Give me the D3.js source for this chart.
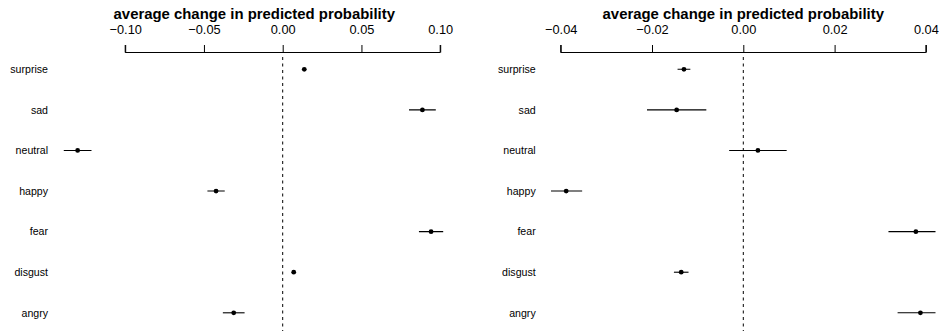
<!DOCTYPE html>
<html>
<head>
<meta charset="utf-8">
<script src="https://cdn.jsdelivr.net/npm/d3@7"></script>
<style>
  html, body { margin: 0; padding: 0; background: #fff; }
  svg { display: block; }
  text { font-family: "Liberation Sans", Arial, Helvetica, sans-serif; fill: #000; }
</style>
</head>
<body>
<svg id="chart" width="939" height="331"></svg>
<script>
// Emotion categories, listed top to bottom
const categories = ["surprise", "sad", "neutral", "happy", "fear", "disgust", "angry"];

// Left panel: estimates and interval half-widths
const leftEstimate = [0.0137, 0.0887, -0.1302, -0.0423, 0.0942, 0.0070, -0.0311];
const leftHalfWidth = [0.0010, 0.0085, 0.0088, 0.0055, 0.0077, 0.0006, 0.0069];
const leftTicks = [-0.10, -0.05, 0.00, 0.05, 0.10];

// Right panel: estimates and interval half-widths
const rightEstimate = [-0.0130, -0.0146, 0.0032, -0.0388, 0.0378, -0.0136, 0.0388];
const rightHalfWidth = [0.0014, 0.0065, 0.0063, 0.0035, 0.0060, 0.0016, 0.0050];
const rightTicks = [-0.04, -0.02, 0.00, 0.02, 0.04];

const axisTitle = "average change in predicted probability";

const svg = d3.select("#chart");

const y = d3.scalePoint()
  .domain(categories)
  .range([69.3, 312.8]);

const axisY = 52.5;

function panel(opts) {
  const { id, estimate, half, ticks, domain, range, clip, labelX } = opts;
  const x = d3.scaleLinear().domain(domain).range(range);
  const g = svg.append("g");

  svg.append("clipPath").attr("id", id)
    .append("rect")
    .attr("x", clip[0]).attr("y", 55)
    .attr("width", clip[1] - clip[0]).attr("height", 331 - 55);

  // top axis
  const axis = d3.axisTop(x)
    .tickValues(ticks)
    .tickSize(7.5)
    .tickPadding(11)
    .tickFormat(d3.format(".2f"));
  const ag = g.append("g")
    .attr("transform", `translate(0,${axisY})`)
    .call(axis);
  ag.select(".domain")
    .attr("d", `M${x(ticks[0])},-7.5V0H${x(ticks[ticks.length - 1])}V-7.5`)
    .attr("stroke", "#000").attr("stroke-width", 1);
  ag.selectAll(".tick line").attr("stroke", "#000");
  ag.selectAll(".tick text")
    .attr("font-size", 12.8)
    .attr("font-family", "'Liberation Sans', Arial, sans-serif")
    .attr("fill", "#000")
    .text(d => d3.format(".2f")(d).replace("-", "\u2212"));

  // axis title, centred on the plot region
  g.append("text")
    .attr("x", (clip[0] + clip[1]) / 2)
    .attr("y", 19)
    .attr("text-anchor", "middle")
    .attr("font-size", 14.9)
    .attr("font-weight", "bold")
    .text(axisTitle);

  // reference line at zero
  g.append("line")
    .attr("x1", x(0)).attr("x2", x(0))
    .attr("y1", 57).attr("y2", 331)
    .attr("stroke", "#000")
    .attr("stroke-width", 1)
    .attr("stroke-dasharray", "3,3.5");

  // category labels
  g.selectAll("text.cat")
    .data(categories)
    .join("text")
    .attr("class", "cat")
    .attr("x", labelX)
    .attr("y", d => y(d))
    .attr("dy", "0.36em")
    .attr("text-anchor", "end")
    .attr("font-size", 10.6)
    .attr("fill", "#111")
    .text(d => d);

  const marks = g.append("g").attr("clip-path", `url(#${id})`);

  // interval bars
  marks.selectAll("line.ci")
    .data(categories)
    .join("line")
    .attr("class", "ci")
    .attr("x1", (d, i) => x(estimate[i] - half[i]))
    .attr("x2", (d, i) => x(estimate[i] + half[i]))
    .attr("y1", d => y(d))
    .attr("y2", d => y(d))
    .attr("stroke", "#000")
    .attr("stroke-width", 1.1);

  // point estimates
  marks.selectAll("circle.pt")
    .data(categories)
    .join("circle")
    .attr("class", "pt")
    .attr("cx", (d, i) => x(estimate[i]))
    .attr("cy", d => y(d))
    .attr("r", 2.4)
    .attr("fill", "#000");
}

panel({
  id: "clipLeft",
  estimate: leftEstimate,
  half: leftHalfWidth,
  ticks: leftTicks,
  domain: [-0.10, 0.10],
  range: [125.2, 440.2],
  clip: [59, 449.5],
  labelX: 48
});

panel({
  id: "clipRight",
  estimate: rightEstimate,
  half: rightHalfWidth,
  ticks: rightTicks,
  domain: [-0.04, 0.04],
  range: [560.7, 925.9],
  clip: [551, 935.5],
  labelX: 535.7
});
</script>
</body>
</html>
